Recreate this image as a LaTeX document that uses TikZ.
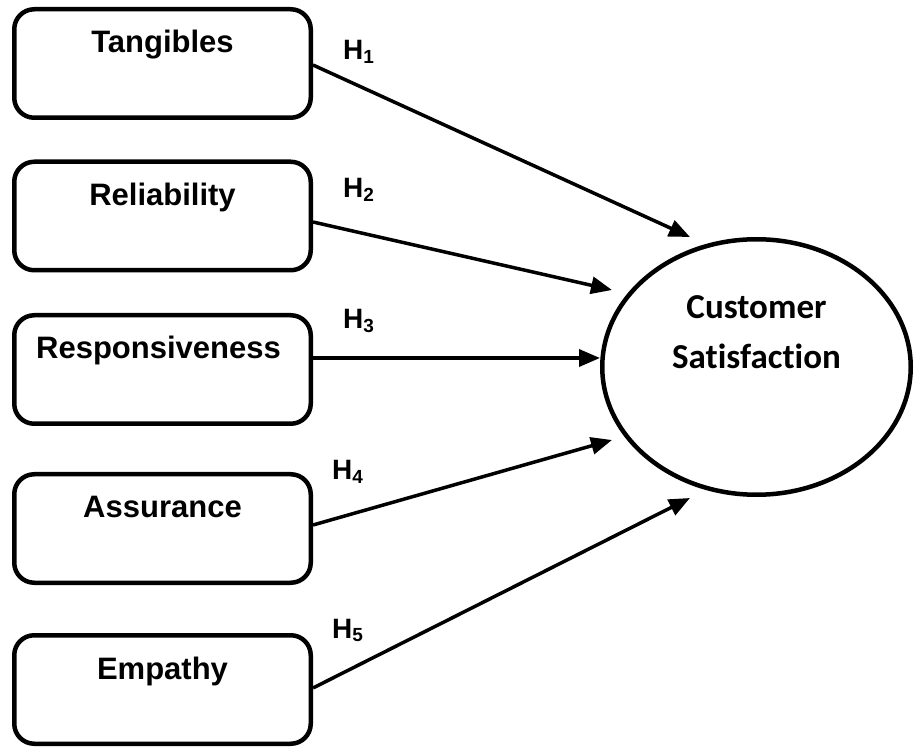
\documentclass[tikz,border=0pt]{standalone}
\usepackage{fontspec}
\setmainfont{Liberation Sans}
\newfontfamily\calib[Ligatures=NoCommon]{Carlito}
\usetikzlibrary{arrows.meta,shapes.geometric}
\newcommand{\hsub}[1]{H\raisebox{-3.5pt}{\fontsize{19}{19}\selectfont #1}}
\begin{document}
\begin{tikzpicture}[x=1pt,y=-1pt,
  box/.style={draw, line width=4.5pt, rounded corners=20pt, minimum width=296.5pt, minimum height=108.5pt, inner sep=0pt, fill=white},
  lbl/.style={font=\bfseries\fontsize{31}{31}\selectfont, anchor=base, inner sep=0pt},
  ctext/.style={font=\calib\bfseries\fontsize{35}{35}\selectfont, anchor=base, inner sep=0pt},
  hyp/.style={font=\bfseries\fontsize{28}{28}\selectfont, anchor=base west, inner sep=0pt},
  conn/.style={line width=3.5pt, -{Triangle[length=21pt,width=17pt]}}]
\useasboundingbox (0,0) rectangle (914,751);
% boxes
\node[box] (b1) at (162.5,63.5) {};
\node[box] (b2) at (162.5,216) {};
\node[box] (b3) at (162.5,369.5) {};
\node[box] (b4) at (162.5,528.5) {};
\node[box] (b5) at (162.5,689.5) {};
\node[lbl] (t1) at ([yshift=-46pt]b1.north) {Tangibles};
\node[lbl] (t2) at ([yshift=-46pt]b2.north) {Reliability};
\node[lbl] (t3) at ([yshift=-46pt,xshift=-4pt]b3.north) {Responsiveness};
\node[lbl] (t4) at ([yshift=-46pt]b4.north) {Assurance};
\node[lbl] (t5) at ([yshift=-46pt]b5.north) {Empathy};
% ellipse
\node[draw, ellipse, line width=4.5pt, minimum width=308.5pt, minimum height=255.5pt, inner sep=0pt] (cs) at (756.5,367) {};
\node[ctext] (c1) at ([yshift=48pt]cs.center) {Customer};
\node[ctext] (c2) at ([yshift=-2pt]cs.center) {Satisfaction};
% arrow tips
\coordinate (e1) at (690,237);
\coordinate (e2) at (612,290);
\coordinate (e3) at (600,358);
\coordinate (e4) at (612,440);
\coordinate (e5) at (690,498);
\draw[conn] ([yshift=-1.5pt]b1.east) -- (e1);
\draw[conn] ([yshift=-6pt]b2.east) -- (e2);
\draw[conn] ([yshift=11.5pt]b3.east) -- (e3);
\draw[conn] ([yshift=3.5pt]b4.east) -- (e4);
\draw[conn] ([yshift=1.5pt]b5.east) -- (e5);
% hypothesis labels
\node[hyp] (h1) at (343,60) {\hsub{1}};
\node[hyp] (h2) at (343,198) {\hsub{2}};
\node[hyp] (h3) at (343,329) {\hsub{3}};
\node[hyp] (h4) at (332,480) {\hsub{4}};
\node[hyp] (h5) at (332,638) {\hsub{5}};
\end{tikzpicture}
\end{document}
